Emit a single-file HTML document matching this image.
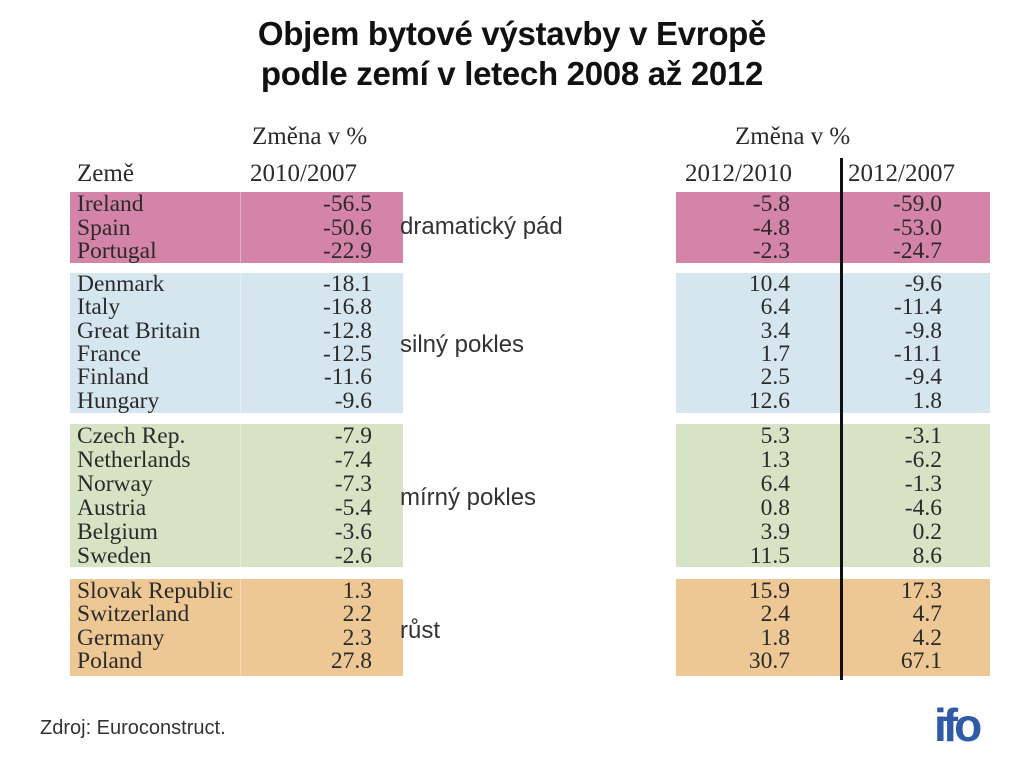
<!DOCTYPE html>
<html><head><meta charset="utf-8"><style>
body{margin:0;width:1024px;height:763px;background:#fff;position:relative;overflow:hidden;font-family:"Liberation Serif",serif;color:#2a2a2a}
.a{position:absolute;white-space:nowrap}
.t{font-family:"Liberation Sans",sans-serif;font-weight:bold;font-size:33px;color:#111;left:0;width:1024px;text-align:center;letter-spacing:-0.3px}
.h{font-size:25px;line-height:26px}
.r{position:absolute;font-size:23.5px;line-height:24px;height:24px;white-space:nowrap}
.n{text-align:right}
.blk{position:absolute}
.lab{font-family:"Liberation Sans",sans-serif;font-size:24px;color:#333}
</style></head><body>
<div class="a t" style="top:15px">Objem bytové výstavby v Evropě</div>
<div class="a t" style="top:55px">podle zemí v letech 2008 až 2012</div>

<div class="a h" style="left:252px;top:124px">Změna v %</div>
<div class="a h" style="left:77px;top:161px">Země</div>
<div class="a h" style="left:250px;top:161px">2010/2007</div>
<div class="a h" style="left:735px;top:124px">Změna v %</div>
<div class="a h" style="left:685px;top:161px">2012/2010</div>
<div class="a h" style="left:848px;top:161px">2012/2007</div>

<div class="blk" style="left:70px;top:192px;width:333px;height:71px;background:#d483a9"></div>
<div class="blk" style="left:70px;top:273px;width:333px;height:140px;background:#d6e6ef"></div>
<div class="blk" style="left:70px;top:424px;width:333px;height:143px;background:#d6e4c5"></div>
<div class="blk" style="left:70px;top:579px;width:333px;height:97px;background:#eec894"></div>
<div class="blk" style="left:240px;top:192px;width:1px;height:484px;background:rgba(255,255,255,.35)"></div>
<div class="blk" style="left:676px;top:192px;width:314px;height:71px;background:#d483a9"></div>
<div class="blk" style="left:676px;top:273px;width:314px;height:140px;background:#d6e6ef"></div>
<div class="blk" style="left:676px;top:424px;width:314px;height:143px;background:#d6e4c5"></div>
<div class="blk" style="left:676px;top:579px;width:314px;height:97px;background:#eec894"></div>
<div class="blk" style="left:840px;top:158px;width:3px;height:522px;background:#111"></div>

<div class="a lab" style="left:400px;top:213px">dramatický pád</div>
<div class="a lab" style="left:400px;top:331px">silný pokles</div>
<div class="a lab" style="left:400px;top:484px">mírný pokles</div>
<div class="a lab" style="left:400px;top:617px">růst</div>

<div class="r" style="left:77px;top:192px">Ireland</div><div class="r n" style="left:272px;width:100px;top:192px">-56.5</div><div class="r n" style="left:690px;width:100px;top:192px">-5.8</div><div class="r n" style="left:842px;width:100px;top:192px">-59.0</div>
<div class="r" style="left:77px;top:216px">Spain</div><div class="r n" style="left:272px;width:100px;top:216px">-50.6</div><div class="r n" style="left:690px;width:100px;top:216px">-4.8</div><div class="r n" style="left:842px;width:100px;top:216px">-53.0</div>
<div class="r" style="left:77px;top:239px">Portugal</div><div class="r n" style="left:272px;width:100px;top:239px">-22.9</div><div class="r n" style="left:690px;width:100px;top:239px">-2.3</div><div class="r n" style="left:842px;width:100px;top:239px">-24.7</div>

<div class="r" style="left:77px;top:272px">Denmark</div><div class="r n" style="left:272px;width:100px;top:272px">-18.1</div><div class="r n" style="left:690px;width:100px;top:272px">10.4</div><div class="r n" style="left:842px;width:100px;top:272px">-9.6</div>
<div class="r" style="left:77px;top:295px">Italy</div><div class="r n" style="left:272px;width:100px;top:295px">-16.8</div><div class="r n" style="left:690px;width:100px;top:295px">6.4</div><div class="r n" style="left:842px;width:100px;top:295px">-11.4</div>
<div class="r" style="left:77px;top:319px">Great Britain</div><div class="r n" style="left:272px;width:100px;top:319px">-12.8</div><div class="r n" style="left:690px;width:100px;top:319px">3.4</div><div class="r n" style="left:842px;width:100px;top:319px">-9.8</div>
<div class="r" style="left:77px;top:342px">France</div><div class="r n" style="left:272px;width:100px;top:342px">-12.5</div><div class="r n" style="left:690px;width:100px;top:342px">1.7</div><div class="r n" style="left:842px;width:100px;top:342px">-11.1</div>
<div class="r" style="left:77px;top:365px">Finland</div><div class="r n" style="left:272px;width:100px;top:365px">-11.6</div><div class="r n" style="left:690px;width:100px;top:365px">2.5</div><div class="r n" style="left:842px;width:100px;top:365px">-9.4</div>
<div class="r" style="left:77px;top:389px">Hungary</div><div class="r n" style="left:272px;width:100px;top:389px">-9.6</div><div class="r n" style="left:690px;width:100px;top:389px">12.6</div><div class="r n" style="left:842px;width:100px;top:389px">1.8</div>

<div class="r" style="left:77px;top:424px">Czech Rep.</div><div class="r n" style="left:272px;width:100px;top:424px">-7.9</div><div class="r n" style="left:690px;width:100px;top:424px">5.3</div><div class="r n" style="left:842px;width:100px;top:424px">-3.1</div>
<div class="r" style="left:77px;top:448px">Netherlands</div><div class="r n" style="left:272px;width:100px;top:448px">-7.4</div><div class="r n" style="left:690px;width:100px;top:448px">1.3</div><div class="r n" style="left:842px;width:100px;top:448px">-6.2</div>
<div class="r" style="left:77px;top:472px">Norway</div><div class="r n" style="left:272px;width:100px;top:472px">-7.3</div><div class="r n" style="left:690px;width:100px;top:472px">6.4</div><div class="r n" style="left:842px;width:100px;top:472px">-1.3</div>
<div class="r" style="left:77px;top:496px">Austria</div><div class="r n" style="left:272px;width:100px;top:496px">-5.4</div><div class="r n" style="left:690px;width:100px;top:496px">0.8</div><div class="r n" style="left:842px;width:100px;top:496px">-4.6</div>
<div class="r" style="left:77px;top:520px">Belgium</div><div class="r n" style="left:272px;width:100px;top:520px">-3.6</div><div class="r n" style="left:690px;width:100px;top:520px">3.9</div><div class="r n" style="left:842px;width:100px;top:520px">0.2</div>
<div class="r" style="left:77px;top:544px">Sweden</div><div class="r n" style="left:272px;width:100px;top:544px">-2.6</div><div class="r n" style="left:690px;width:100px;top:544px">11.5</div><div class="r n" style="left:842px;width:100px;top:544px">8.6</div>

<div class="r" style="left:77px;top:579px">Slovak Republic</div><div class="r n" style="left:272px;width:100px;top:579px">1.3</div><div class="r n" style="left:690px;width:100px;top:579px">15.9</div><div class="r n" style="left:842px;width:100px;top:579px">17.3</div>
<div class="r" style="left:77px;top:602px">Switzerland</div><div class="r n" style="left:272px;width:100px;top:602px">2.2</div><div class="r n" style="left:690px;width:100px;top:602px">2.4</div><div class="r n" style="left:842px;width:100px;top:602px">4.7</div>
<div class="r" style="left:77px;top:626px">Germany</div><div class="r n" style="left:272px;width:100px;top:626px">2.3</div><div class="r n" style="left:690px;width:100px;top:626px">1.8</div><div class="r n" style="left:842px;width:100px;top:626px">4.2</div>
<div class="r" style="left:77px;top:649px">Poland</div><div class="r n" style="left:272px;width:100px;top:649px">27.8</div><div class="r n" style="left:690px;width:100px;top:649px">30.7</div><div class="r n" style="left:842px;width:100px;top:649px">67.1</div>

<div class="a" style="left:40px;top:717px;font-family:'Liberation Sans',sans-serif;font-size:20px;color:#333">Zdroj: Euroconstruct.</div>
<div class="a" style="left:934px;top:698px;font-family:'Liberation Sans',sans-serif;font-weight:bold;font-size:46px;letter-spacing:-4px;color:#2f5aa8">ifo</div>
</body></html>
